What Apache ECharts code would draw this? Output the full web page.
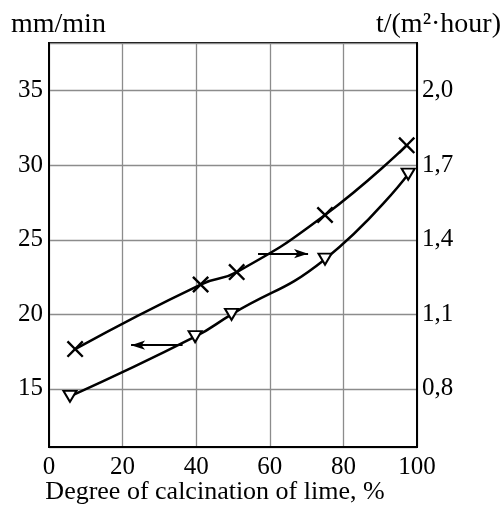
<!DOCTYPE html>
<html>
<head>
<meta charset="utf-8">
<script src="https://cdn.jsdelivr.net/npm/echarts@6/dist/echarts.min.js"></script>
<style>html,body{margin:0;padding:0;background:#fff}#c{width:502px;height:505px}</style>
</head>
<body>
<div id="c"></div>
<script>
// Degree of calcination of lime, % (x) for each series
const crossX = [7.1, 41.2, 51.0, 75.0, 97.2];
// t/(m²·hour) values (right axis), × markers
const crossT = [0.96, 1.22, 1.27, 1.50, 1.78];
const triX = [5.7, 39.7, 49.6, 75.0, 97.6];
// mm/min values (left axis), ▽ markers
const triSpeed = [14.5, 18.5, 20.0, 23.7, 29.4];
// tick labels
const xTicks = [0, 20, 40, 60, 80, 100];
const leftTicks = [15, 20, 25, 30, 35];
const rightTicks = [0.8, 1.1, 1.4, 1.7, 2.0];
// annotation arrows (data coords)
const arrowRight = {y: 1.344, from: 56.8, to: 70.4};
const arrowLeft = {y: 17.93, from: 36.3, to: 22.3};

const FONT = '"Liberation Serif", "DejaVu Serif", serif';
const crossPath = 'path://M0,1 L1,0 L5,4 L9,0 L10,1 L6,5 L10,9 L9,10 L5,6 L1,10 L0,9 L4,5 Z';

const chart = echarts.init(document.getElementById('c'), null, {renderer: 'canvas'});
chart.setOption({
  animation: false,
  backgroundColor: '#fff',
  grid: {left: 49, right: 85, top: 43, bottom: 58, show: true, borderColor: '#000', borderWidth: 2,
    containLabel: false, outerBoundsMode: 'none'},
  xAxis: {
    type: 'value', min: 0, max: 100, interval: 20,
    name: 'Degree of calcination of lime, %', nameLocation: 'middle', nameGap: 32,
    nameMoveOverlap: false,
    nameTextStyle: {fontFamily: FONT, fontSize: 26, color: '#000', padding: [0, 36, 0, 0]},
    axisLine: {show: true, lineStyle: {color: '#000', width: 2}},
    axisTick: {show: false},
    axisLabel: {fontFamily: FONT, fontSize: 25, color: '#000', margin: 8,
      customValues: xTicks},
    splitLine: {show: true, lineStyle: {color: '#8c8c8c', width: 1.3}}
  },
  yAxis: [{
    type: 'value', min: 11.1, max: 38.2, splitNumber: 5, position: 'left',
    axisLine: {show: true, lineStyle: {color: '#000', width: 2}},
    axisTick: {show: false},
    axisLabel: {fontFamily: FONT, fontSize: 25, color: '#000', margin: 6,
      customValues: leftTicks},
    splitLine: {show: true, lineStyle: {color: '#8c8c8c', width: 1.3}}
  }, {
    type: 'value', min: 0.566, max: 2.192, position: 'right',
    axisLine: {show: true, lineStyle: {color: '#000', width: 2}},
    axisTick: {show: false},
    axisLabel: {fontFamily: FONT, fontSize: 25, color: '#000', margin: 5,
      customValues: rightTicks,
      formatter: v => v.toFixed(1).replace('.', ',')},
    splitLine: {show: false}
  }],
  graphic: [
    {type: 'text', left: 11, top: 11, style: {text: 'mm/min', font: '28px ' + FONT, fill: '#000'}},
    {type: 'text', right: 1, top: 11, style: {text: 't/(m²·hour)', font: '28px ' + FONT, fill: '#000'}}
  ],
  series: [{
    type: 'line', yAxisIndex: 1, smooth: 0.5,
    data: crossX.map((x, i) => [x, crossT[i]]),
    symbol: crossPath, symbolSize: 17, showAllSymbol: true,
    itemStyle: {color: '#000'},
    lineStyle: {color: '#000', width: 2.5},
    markLine: {
      silent: true, symbol: ['none', 'arrow'], symbolSize: [7, 14],
      label: {show: false}, lineStyle: {color: '#000', width: 2, type: 'solid'},
      data: [[{coord: [arrowRight.from, arrowRight.y]}, {coord: [arrowRight.to, arrowRight.y]}]]
    }
  }, {
    type: 'line', yAxisIndex: 0, smooth: 0.5,
    data: triX.map((x, i) => [x, triSpeed[i]]),
    symbol: 'triangle', symbolRotate: 180, symbolSize: [13, 11], showAllSymbol: true,
    itemStyle: {color: '#fff', borderColor: '#000', borderWidth: 2},
    lineStyle: {color: '#000', width: 2.5},
    markLine: {
      silent: true, symbol: ['none', 'arrow'], symbolSize: [7, 14],
      label: {show: false}, lineStyle: {color: '#000', width: 2, type: 'solid'},
      data: [[{coord: [arrowLeft.from, arrowLeft.y]}, {coord: [arrowLeft.to, arrowLeft.y]}]]
    }
  }]
});
</script>
</body>
</html>
